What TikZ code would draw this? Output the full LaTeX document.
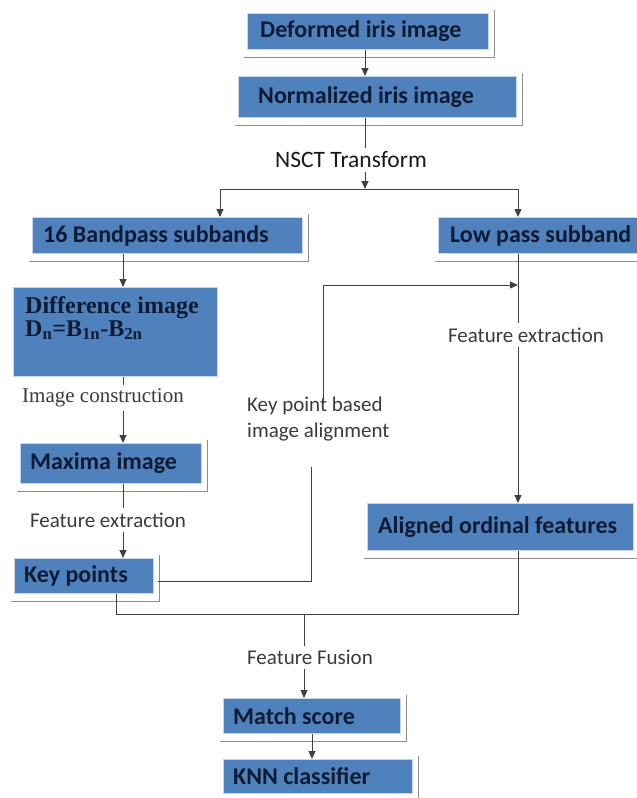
\documentclass[tikz,border=0pt]{standalone}
\usepackage{fontspec}
\setmainfont{Carlito}
\newfontfamily\timesf{Liberation Serif}
\usetikzlibrary{arrows.meta}
\definecolor{boxblue}{HTML}{4F81BD}
\definecolor{boxedge}{HTML}{C9D6EA}
\definecolor{boxtext}{HTML}{0F1B33}
\definecolor{lbl}{HTML}{3A3A3A}
\definecolor{conncol}{HTML}{404040}
\definecolor{shade}{HTML}{8C8C8C}
\tikzset{
 box/.style={draw=boxedge, line width=1.2pt, fill=boxblue, anchor=north west, inner sep=0pt},
 btext/.style={anchor=west, text=boxtext, font=\fontsize{24}{27}\selectfont\bfseries, inner sep=0pt},
 lab/.style={text=lbl, font=\fontsize{21}{24}\selectfont, inner sep=4pt},
 conn/.style={draw=conncol, line width=1pt},
 arr/.style={conn, -{Triangle[length=8pt,width=7pt]}},
 shadowln/.style={draw=shade, line width=1.3pt},
}
\newcommand\bxshadow[1]{\draw[shadowln] ([shift={(-3pt,-7pt)}]#1.south west) -- ([shift={(5pt,-7pt)}]#1.south east) -- ([shift={(5pt,3pt)}]#1.north east);}
\begin{document}
\begin{tikzpicture}[x=1pt,y=-1pt]
\useasboundingbox (0,0) rectangle (637,798);
% axis coordinates
\coordinate (xm) at (365,0);
\coordinate (xl) at (123,0);
\coordinate (xr) at (518,0);
\coordinate (xb) at (220,0);
\coordinate (xk) at (116,0);
\coordinate (xf) at (304,0);
\coordinate (xs) at (312,0);
\coordinate (j1) at (365,189);
\coordinate (j2) at (518,285);
\coordinate (j3) at (304,614);
\coordinate (kpa) at (311,467);
\coordinate (kpb) at (323,403);
% boxes
\node[box, minimum width=241pt, minimum height=36pt] (b1) at (247,13) {};
\node[box, minimum width=278pt, minimum height=41pt] (b2) at (238,76) {};
\node[box, minimum width=270pt, minimum height=36pt] (b3) at (32,217) {};
\node[box, minimum width=199pt, minimum height=36pt] (b4) at (438,217) {};
\node[box, minimum width=204pt, minimum height=89pt] (b5) at (13,287) {};
\node[box, minimum width=181pt, minimum height=40pt] (b6) at (20,443) {};
\node[box, minimum width=139pt, minimum height=35pt] (b7) at (14,558) {};
\node[box, minimum width=266pt, minimum height=47pt] (b8) at (367,503) {};
\node[box, minimum width=177pt, minimum height=35pt] (b9) at (223,698) {};
\node[box, minimum width=189pt, minimum height=34pt] (b10) at (223,759) {};
\bxshadow{b1}\bxshadow{b2}\bxshadow{b3}\bxshadow{b4}\bxshadow{b6}
\bxshadow{b7}\bxshadow{b8}\bxshadow{b9}\bxshadow{b10}
% box texts
\node[btext] (t1) at ([xshift=13pt]b1.west) {Deformed iris image};
\node[btext] (t2) at ([xshift=20pt]b2.west) {Normalized iris image};
\node[btext] (t3) at ([xshift=11pt]b3.west) {16 Bandpass subbands};
\node[btext] (t4) at ([xshift=12pt]b4.west) {Low pass subband};
\node[anchor=north west, align=left, inner sep=0pt, text=boxtext,
      font=\timesf\fontsize{24}{23}\selectfont\bfseries] (t5)
      at ([shift={(12pt,-9pt)}]b5.north west)
      {Difference image\\ D\textsubscript{n}=B\textsubscript{1n}-B\textsubscript{2n}};
\node[btext] (t6) at ([xshift=10pt]b6.west) {Maxima image};
\node[btext] (t7) at ([xshift=10pt]b7.west) {Key points};
\node[btext] (t8) at ([xshift=11pt]b8.west) {Aligned ordinal features};
\node[btext] (t9) at ([xshift=10pt]b9.west) {Match score};
\node[btext] (t10) at ([xshift=10pt]b10.west) {KNN classifier};
% labels
\node[lab, font=\fontsize{23.5}{26}\selectfont, text=black!90] (nsct) at (351,160) {NSCT Transform};
\node[lab, font=\timesf\fontsize{21}{24}\selectfont] (ic) at (103,398) {Image construction};
\node[lab] (fel) at (108,520) {Feature extraction};
\node[lab] (fer) at (526,335) {Feature extraction};
\node[lab, anchor=north west, align=left, inner sep=0pt, font=\fontsize{21}{26}\selectfont] (kpl) at (247,397) {Key point based\\image alignment};
\node[lab] (ff) at (310,657) {Feature Fusion};
% connectors
\draw[arr] (xm |- b1.south) -- (xm |- b2.north);
\draw[conn] (xm |- b2.south) -- (xm |- nsct.north);
\draw[arr] (xm |- nsct.south) -- (j1);
\draw[arr] (j1) -| (xb |- b3.north);
\draw[arr] (j1) -| (xr |- b4.north);
\draw[arr] (xl |- b3.south) -- (xl |- b5.north);
\draw[conn] (xl |- b5.south) -- (xl |- ic.north);
\draw[arr] (xl |- ic.south) -- (xl |- b6.north);
\draw[conn] (xl |- b6.south) -- (xl |- fel.north);
\draw[arr] (xl |- fel.south) -- (xl |- b7.north);
\draw[conn] ([xshift=4pt,yshift=-5pt]b7.east) -| (kpa);
\draw[arr] (kpb) |- (j2);
\draw[conn] (xr |- b4.south) -- (xr |- fer.north);
\draw[arr] (xr |- fer.south) -- (xr |- b8.north);
\draw[conn] (xr |- b8.south) -- (xr |- j3) -- (xk |- j3) -- (xk |- b7.south);
\draw[conn] (j3) -- (xf |- ff.north);
\draw[arr] (xf |- ff.south) -- (xf |- b9.north);
\draw[arr] (xs |- b9.south) -- (xs |- b10.north);
\end{tikzpicture}
\end{document}
